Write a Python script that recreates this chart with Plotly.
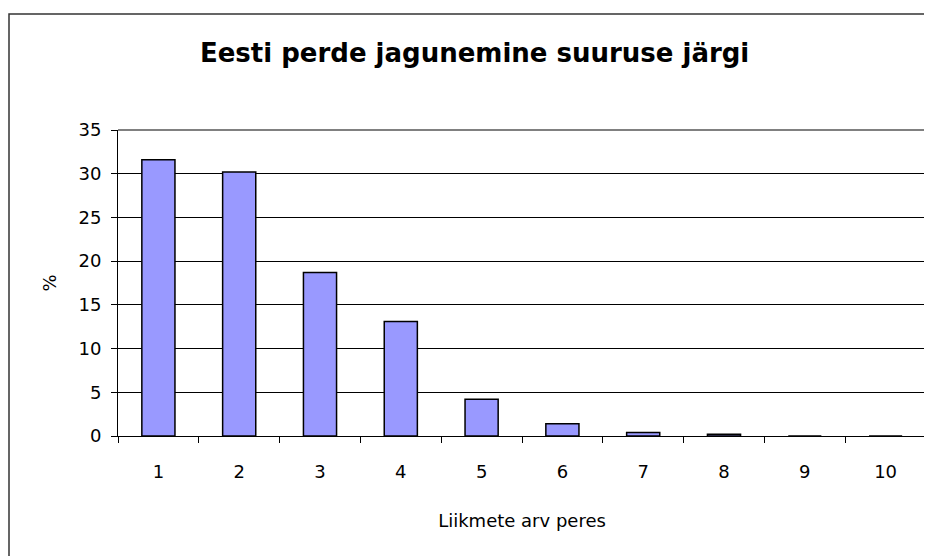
import plotly.graph_objects as go

categories = ["1", "2", "3", "4", "5", "6", "7", "8", "9", "10"]
values = [31.6, 30.2, 18.7, 13.1, 4.2, 1.4, 0.4, 0.2, 0.0, 0.0]
y_ticks = [0, 5, 10, 15, 20, 25, 30, 35]

title_text = "Eesti perde jagunemine suuruse järgi"
x_title = "Liikmete arv peres"
y_title = "%"

FONT = "DejaVu Sans, Liberation Sans, Arial, sans-serif"

W, H = 924, 548  # page body has an 8px default margin
L, R, T, B = 110, 6, 122, 120

fig = go.Figure(
    go.Bar(
        x=categories,
        y=values,
        marker=dict(color="#9999FF", line=dict(color="black", width=1.5)),
        width=0.41,
    )
)

fig.update_layout(
    width=W,
    height=H,
    margin=dict(l=L, r=R, t=T, b=B),
    paper_bgcolor="white",
    plot_bgcolor="white",
    showlegend=False,
    font=dict(family=FONT, color="black", size=17),
    title=dict(
        text="<b>" + title_text + "</b>",
        x=0.505,
        xanchor="center",
        y=1 - 45 / H,
        yanchor="middle",
        font=dict(size=26, family=FONT, color="black"),
    ),
    bargap=0.59,
)

fig.update_xaxes(
    type="category",
    tickson="boundaries",
    ticks="outside",
    ticklen=6,
    tickcolor="black",
    showline=True,
    linecolor="black",
    linewidth=1,
    showgrid=False,
    tickfont=dict(size=18, family=FONT),
    ticklabelstandoff=19,
    title=dict(text=x_title, font=dict(size=18, family=FONT), standoff=33),
)

fig.update_yaxes(
    range=[0, 35],
    tickvals=y_ticks,
    ticks="outside",
    ticklen=6,
    tickcolor="black",
    showline=True,
    linecolor="black",
    linewidth=1,
    showgrid=True,
    gridcolor="black",
    gridwidth=1,
    zeroline=False,
    tickfont=dict(size=18, family=FONT),
    ticklabelstandoff=6,
    title=dict(text=y_title, font=dict(size=18, family=FONT), standoff=17),
)

# gray top/right border of plot area
fig.add_shape(type="line", xref="x domain", yref="y domain", x0=0, x1=1, y0=1, y1=1,
              line=dict(color="#808080", width=2), layer="above")
fig.add_shape(type="line", xref="x domain", yref="y domain", x0=1, x1=1, y0=0, y1=1,
              line=dict(color="#808080", width=2), layer="above")

# outer chart frame (extends past the right/bottom edge of the view)
plot_w = W - L - R
plot_h = H - T - B
fig.add_shape(type="rect", xref="paper", yref="paper",
              x0=(1 - L) / plot_w, x1=1.2, y0=-0.6, y1=(H - B - 6) / plot_h,
              line=dict(color="#333333", width=1.5), layer="below")

fig.write_html("out.html")
